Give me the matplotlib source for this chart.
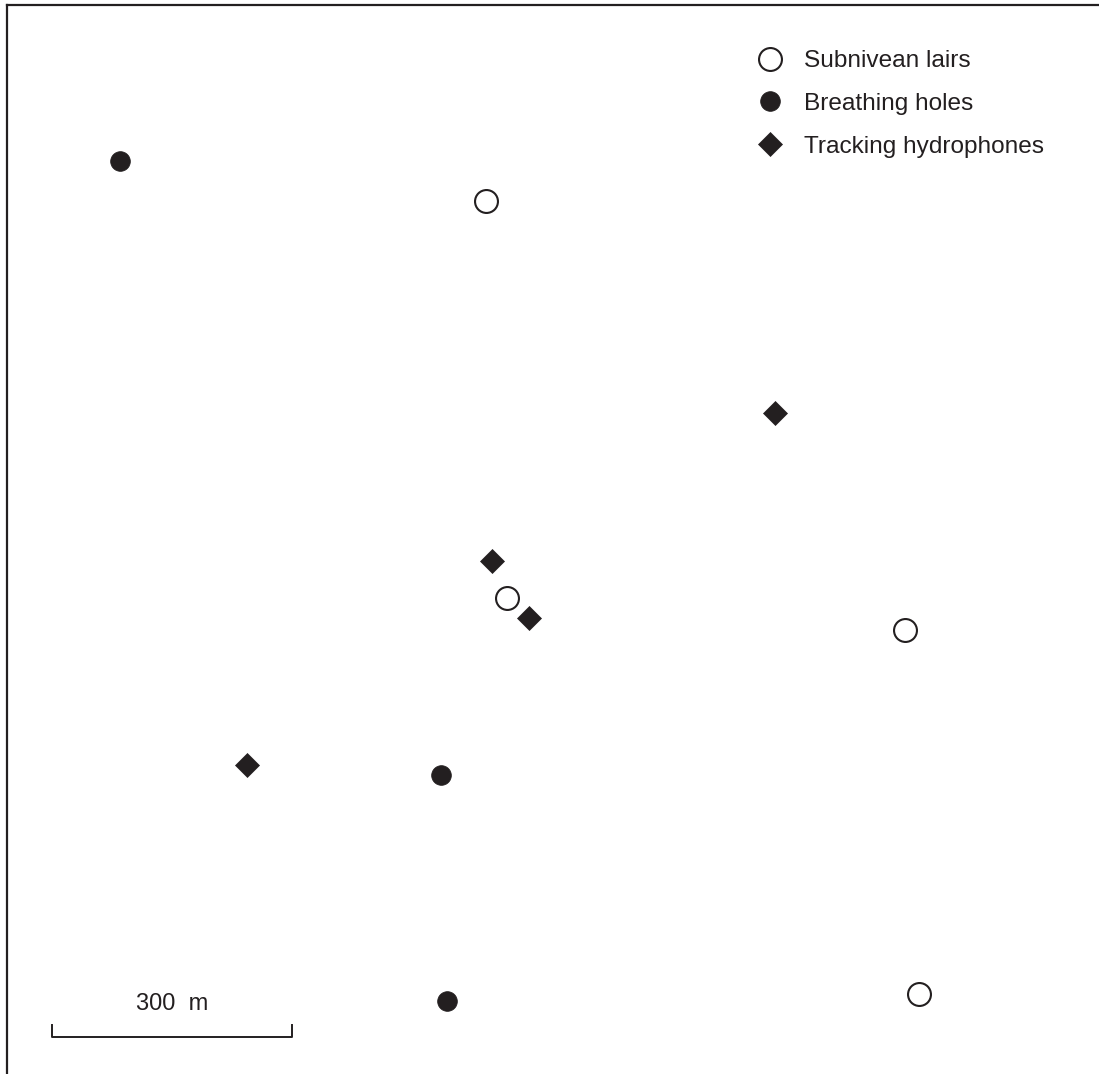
import matplotlib.pyplot as plt

plt.rcParams['font.family'] = ['Liberation Sans', 'DejaVu Sans']

ink = '#231f20'

# positions in metres from the lower-left corner of the frame
lair_x = [599, 625, 1122, 1140]
lair_y = [1091, 595, 555, 100]
hole_x = [141, 542, 550]
hole_y = [1141, 374, 91]
hyd_x = [960, 606, 652, 300]
hyd_y = [826, 641, 570, 386]

scale_len = 300
scale_x0 = 56
scale_y = 46

px_per_m = 0.8
W, H = 1099, 1074

fig = plt.figure(figsize=(W / 100, H / 100), dpi=100)
left, top = 7, 5
ax = fig.add_axes([left / W, 0, (W - left) / W, (H - top) / H])
ax.set_xlim(0, (W - left) / px_per_m)
ax.set_ylim(0, (H - top) / px_per_m)
ax.set_xticks([])
ax.set_yticks([])
ax.spines['right'].set_visible(False)
ax.spines['bottom'].set_visible(False)
for s in ['left', 'top']:
    ax.spines[s].set_linewidth(1.6)
    ax.spines[s].set_color(ink)

ax.plot(lair_x, lair_y, 'o', ls='none', ms=16.5, mfc='white', mec=ink, mew=1.5,
        label='Subnivean lairs')
ax.plot(hole_x, hole_y, 'o', ls='none', ms=14.2, mfc=ink, mec=ink, mew=0.5,
        label='Breathing holes')
ax.plot(hyd_x, hyd_y, 'D', ls='none', ms=11.8, mfc=ink, mec=ink, mew=0.5,
        label='Tracking hydrophones')

leg = ax.legend(loc='upper left', bbox_to_anchor=(758 / W, 1 - 50 / H),
                bbox_transform=fig.transFigure, frameon=False, fontsize=17.6,
                handlelength=1.0, handletextpad=0.9, labelspacing=0.85,
                borderaxespad=0, borderpad=0)
for t in leg.get_texts():
    t.set_color(ink)

# scale bar
tick = 15
ax.plot([scale_x0, scale_x0, scale_x0 + scale_len, scale_x0 + scale_len],
        [scale_y + tick, scale_y, scale_y, scale_y + tick], color=ink, lw=1.4)
ax.text(scale_x0 + scale_len / 2, scale_y + 28, '300  m', ha='center', va='bottom',
        fontsize=17, color=ink)

fig.savefig('out.png', dpi=100)
